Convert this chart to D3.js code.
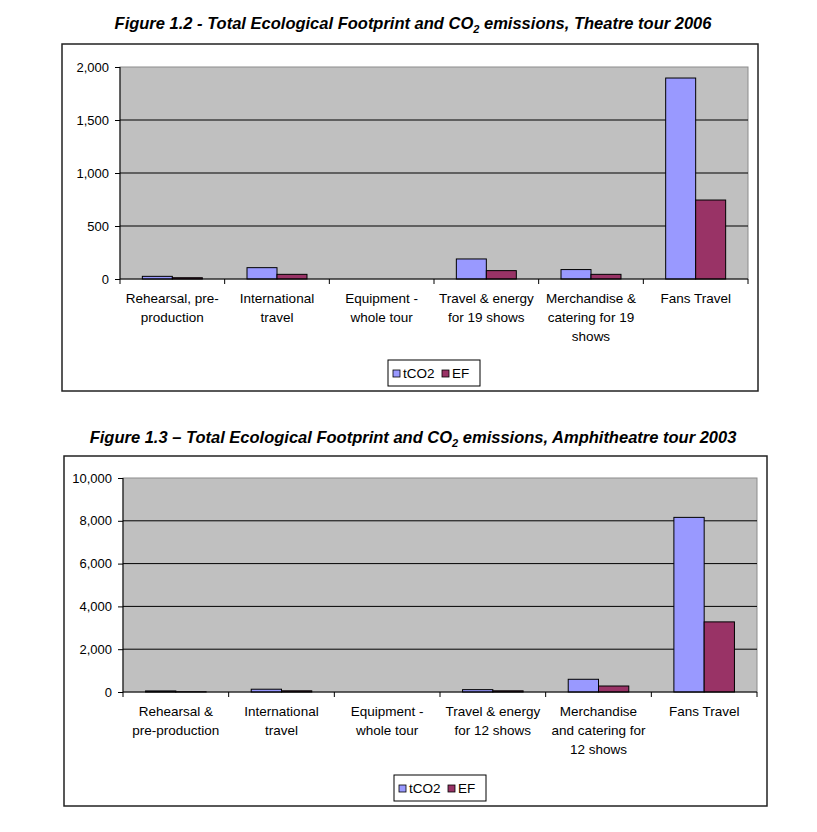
<!DOCTYPE html>
<html>
<head>
<meta charset="utf-8">
<script src="https://cdn.jsdelivr.net/npm/d3@7"></script>
<style>
  body { margin: 0; background: #fff; }
  text { font-family: "Liberation Sans", Arial, sans-serif; }
</style>
</head>
<body>
<div id="chart"></div>
<script>
// Figure 1.2 - Theatre tour 2006
const categories2006 = [
  ["Rehearsal, pre-", "production"],
  ["International", "travel"],
  ["Equipment -", "whole tour"],
  ["Travel & energy", "for 19 shows"],
  ["Merchandise &", "catering for 19", "shows"],
  ["Fans Travel"]
];
const tco2_2006 = [25, 107, 0, 189, 89, 1896];
const ef_2006 = [12, 44, 0, 79, 44, 745];
const ticks2006 = [0, 500, 1000, 1500, 2000];

// Figure 1.3 - Amphitheatre tour 2003
const categories2003 = [
  ["Rehearsal &", "pre-production"],
  ["International", "travel"],
  ["Equipment -", "whole tour"],
  ["Travel & energy", "for 12 shows"],
  ["Merchandise", "and catering for", "12 shows"],
  ["Fans Travel"]
];
const tco2_2003 = [50, 130, 0, 110, 594, 8160];
const ef_2003 = [12, 55, 0, 55, 280, 3276];
const ticks2003 = [0, 2000, 4000, 6000, 8000, 10000];

const seriesNames = ["tCO2", "EF"];
const colors = ["#9999FF", "#993366"];

const svg = d3.select("#chart").append("svg")
  .attr("width", 817)
  .attr("height", 832);

function drawTitle(y, before, after) {
  const t = svg.append("text")
    .attr("x", 413)
    .attr("y", y)
    .attr("text-anchor", "middle")
    .attr("font-size", 16.5)
    .attr("font-weight", "bold")
    .attr("font-style", "italic");
  t.append("tspan").text(before);
  t.append("tspan").attr("font-size", 11).attr("dy", 4).text("2");
  t.append("tspan").attr("dy", -4).text(after);
}

function drawChart(opts) {
  const { box, plot, categories, series, ticks } = opts;

  // outer frame
  svg.append("rect")
    .attr("x", box.x0).attr("y", box.y0)
    .attr("width", box.x1 - box.x0).attr("height", box.y1 - box.y0)
    .attr("fill", "none")
    .attr("stroke", "#222")
    .attr("stroke-width", 1.5);

  const x = d3.scaleBand()
    .domain(d3.range(categories.length))
    .range([plot.left, plot.right]);

  const xs = d3.scaleBand()
    .domain(seriesNames)
    .range([0, x.bandwidth()])
    .paddingInner(0)
    .paddingOuter(0.745);

  const y = d3.scaleLinear()
    .domain([0, d3.max(ticks)])
    .range([plot.bottom, plot.top]);

  // plot background
  svg.append("rect")
    .attr("x", plot.left).attr("y", plot.top)
    .attr("width", plot.right - plot.left).attr("height", plot.bottom - plot.top)
    .attr("fill", "#C0C0C0")
    .attr("stroke", "#8c8c8c")
    .attr("stroke-width", 1);

  // gridlines
  svg.append("g")
    .selectAll("line")
    .data(ticks.filter(d => d > 0 && d < d3.max(ticks)))
    .enter()
    .append("line")
    .attr("x1", plot.left).attr("x2", plot.right)
    .attr("y1", d => y(d)).attr("y2", d => y(d))
    .attr("stroke", "#000")
    .attr("stroke-width", 1);

  // bars
  series.forEach((vals, si) => {
    svg.append("g")
      .selectAll("rect")
      .data(vals.map((v, i) => ({ i, v })).filter(d => d.v > 0))
      .enter()
      .append("rect")
      .attr("x", d => x(d.i) + xs(seriesNames[si]))
      .attr("y", d => y(d.v))
      .attr("width", xs.bandwidth())
      .attr("height", d => plot.bottom - y(d.v))
      .attr("fill", colors[si])
      .attr("stroke", "#000")
      .attr("stroke-width", 1);
  });

  // y axis
  const yAxis = svg.append("g")
    .attr("transform", `translate(${plot.left},0)`)
    .call(d3.axisLeft(y).tickValues(ticks).tickSize(5).tickPadding(6).tickFormat(d3.format(",")));
  yAxis.selectAll("text").attr("font-size", 13).attr("fill", "#000")
    .attr("font-family", "Liberation Sans, Arial, sans-serif");
  yAxis.selectAll("line, path").attr("stroke", "#000");
  yAxis.select(".domain").attr("d", `M0,${plot.top}V${plot.bottom}`);

  // x axis with category separators
  const xg = svg.append("g");
  xg.append("line")
    .attr("x1", plot.left).attr("x2", plot.right)
    .attr("y1", plot.bottom).attr("y2", plot.bottom)
    .attr("stroke", "#000");
  xg.selectAll(".sep")
    .data(d3.range(categories.length + 1))
    .enter()
    .append("line")
    .attr("x1", i => i < categories.length ? x(i) : plot.right)
    .attr("x2", i => i < categories.length ? x(i) : plot.right)
    .attr("y1", plot.bottom).attr("y2", plot.bottom + 5)
    .attr("stroke", "#000");

  xg.selectAll(".lab")
    .data(categories)
    .enter()
    .append("text")
    .attr("text-anchor", "middle")
    .attr("font-size", 13.5)
    .each(function (lines, i) {
      const t = d3.select(this);
      lines.forEach((ln, k) => {
        t.append("tspan")
          .attr("x", x(i) + x.bandwidth() / 2)
          .attr("y", plot.bottom + 24 + k * 19)
          .text(ln);
      });
    });

  // legend
  const lw = 92, lh = 26;
  const lx = (plot.left + plot.right) / 2 - lw / 2;
  const ly = plot.bottom + opts.legendOffset;
  const lg = svg.append("g").attr("transform", `translate(${lx},${ly})`);
  lg.append("rect")
    .attr("width", lw).attr("height", lh)
    .attr("fill", "#fff").attr("stroke", "#000");
  const items = [{ name: seriesNames[0], x: 5 }, { name: seriesNames[1], x: 54 }];
  items.forEach((it, i) => {
    lg.append("rect")
      .attr("x", it.x).attr("y", 10)
      .attr("width", 7).attr("height", 7)
      .attr("fill", colors[i]).attr("stroke", "#000").attr("stroke-width", 0.8);
    lg.append("text")
      .attr("x", it.x + 10).attr("y", 18)
      .attr("font-size", 13.5)
      .text(it.name);
  });
}

drawTitle(29, "Figure 1.2 - Total Ecological Footprint and CO", " emissions, Theatre tour 2006");
drawChart({
  box: { x0: 62, y0: 44, x1: 758, y1: 391 },
  plot: { left: 120, right: 748, top: 67, bottom: 279 },
  categories: categories2006,
  series: [tco2_2006, ef_2006],
  ticks: ticks2006,
  legendOffset: 81
});

drawTitle(443, "Figure 1.3 \u2013 Total Ecological Footprint and CO", " emissions, Amphitheatre tour 2003");
drawChart({
  box: { x0: 64, y0: 456, x1: 767, y1: 806 },
  plot: { left: 123, right: 757, top: 478, bottom: 692 },
  categories: categories2003,
  series: [tco2_2003, ef_2003],
  ticks: ticks2003,
  legendOffset: 83
});
</script>
</body>
</html>
